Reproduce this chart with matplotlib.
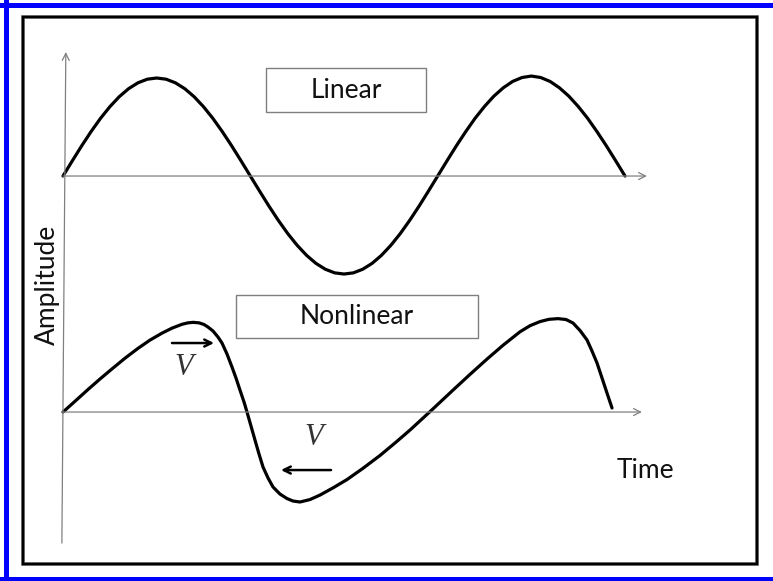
import matplotlib
matplotlib.use('Agg')
import matplotlib.pyplot as plt
from matplotlib.patches import Rectangle
from matplotlib.lines import Line2D

#Time values (arbitrary units) and amplitudes
t_linear = [k / 6 for k in range(61)]
a_linear = [0.0, 0.156, 0.309, 0.454, 0.588, 0.707, 0.809, 0.891, 0.951, 0.988, 1.0,
            0.988, 0.951, 0.891, 0.809, 0.707, 0.588, 0.454, 0.309, 0.156, 0.0,
            -0.156, -0.309, -0.454, -0.588, -0.707, -0.809, -0.891, -0.951, -0.988, -1.0,
            -0.988, -0.951, -0.891, -0.809, -0.707, -0.588, -0.454, -0.309, -0.156, 0.0,
            0.156, 0.309, 0.454, 0.59, 0.71, 0.815, 0.90, 0.965, 1.005, 1.02,
            1.005, 0.965, 0.90, 0.815, 0.71, 0.59, 0.454, 0.309, 0.156, 0.0]

t_nonlinear = [0.0, 0.214, 0.445, 0.658, 0.872, 1.103, 1.335, 1.548, 1.762, 1.94, 2.117, 2.224,
               2.313, 2.42, 2.509, 2.58, 2.669, 2.758, 2.829, 2.918, 3.007, 3.078, 3.149, 3.221,
               3.274, 3.345, 3.416, 3.488, 3.559, 3.648, 3.737, 3.861, 3.986, 4.093, 4.217, 4.395,
               4.573, 4.804, 5.053, 5.338, 5.641, 5.907, 6.174, 6.53, 6.94, 7.242,
               7.544, 7.829, 8.132, 8.31, 8.488, 8.648, 8.808, 8.95, 9.075, 9.199, 9.324, 9.413,
               9.502, 9.573, 9.644, 9.706, 9.769]
a_nonlinear = [0.0, 0.110, 0.230, 0.337, 0.440, 0.549, 0.650, 0.734, 0.805, 0.856, 0.895, 0.910,
               0.915, 0.910, 0.893, 0.867, 0.827, 0.765, 0.704, 0.592, 0.459, 0.347, 0.224, 0.102,
               0.0, -0.143, -0.286, -0.429, -0.561, -0.673, -0.765, -0.837, -0.883, -0.908, -0.918,
               -0.893, -0.847, -0.774, -0.689, -0.574, -0.443, -0.316, -0.184, 0.004,
               0.224, 0.384, 0.540, 0.681, 0.819, 0.881, 0.923, 0.946, 0.953, 0.944, 0.908, 0.832,
               0.735, 0.622, 0.5, 0.378, 0.255, 0.148, 0.041]

#Baseline of the upper (linear) trace above the lower one
linear_base = 2.408

fig = plt.figure(figsize=(7.73, 5.81), dpi=100)
ax = fig.add_axes([0, 0, 1, 1])
ax.set_xlim(-1.121, 12.633)
ax.set_ylim(-1.724, 4.204)
ax.axis('off')

#Blue outer frame (top, left, bottom), black inner frame
W, H = 773.0, 581.0
for xs, ys in [((0, W), (H - 4.5, H - 4.5)), ((5.5, 5.5), (0, H)), ((0, W), (2.0, 2.0))]:
    fig.add_artist(Line2D([x / W for x in xs], [y / H for y in ys], transform=fig.transFigure,
                          color='#0000ff', lw=3.6))
fig.add_artist(Rectangle((23 / W, 17 / H), 734 / W, 547 / H, transform=fig.transFigure,
                         fill=False, edgecolor='#555555', linewidth=2.6))
fig.add_artist(Rectangle((23 / W, 17 / H), 734 / W, 547 / H, transform=fig.transFigure,
                         fill=False, edgecolor='black', linewidth=1.6))

#Axes arrows
axis_kw = dict(arrowstyle='->,head_length=0.5,head_width=0.25', color='#808080', lw=0.9,
               shrinkA=0, shrinkB=0)
ax.annotate('', xy=(0.05, 3.673), xytext=(-0.02, -1.337), arrowprops=axis_kw)
ax.annotate('', xy=(10.39, linear_base), xytext=(0, linear_base), arrowprops=axis_kw)
ax.annotate('', xy=(10.30, 0), xytext=(0, 0), arrowprops=axis_kw)

#Waves
ax.plot(t_linear, [a + linear_base for a in a_linear], color='black', lw=2.3,
        solid_joinstyle='round', solid_capstyle='round')
ax.plot(t_nonlinear, a_nonlinear, color='black', lw=2.3,
        solid_joinstyle='round', solid_capstyle='round')

#Label boxes
font = 'Lato'
ax.add_patch(Rectangle((3.612, 3.061), 2.847, 0.449, fill=False, edgecolor='#7f7f7f', lw=1))
ax.text(5.036, 3.28, 'Linear', ha='center', va='center', fontsize=19, family=font, color='#111111')
ax.add_patch(Rectangle((3.078, 0.755), 4.306, 0.439, fill=False, edgecolor='#7f7f7f', lw=1))
ax.text(5.231, 0.975, 'Nonlinear', ha='center', va='center', fontsize=19, family=font, color='#111111')

ax.text(10.37, -0.60, 'Time', ha='center', va='center', fontsize=19, family=font, color='#111111')
ax.text(-0.27, 1.296, 'Amplitude', ha='center', va='center', rotation=90, fontsize=19,
        family=font, color='#111111')

#Velocity arrows
v_kw = dict(arrowstyle='->,head_length=0.5,head_width=0.25', color='black', lw=1.8,
            shrinkA=0, shrinkB=0)
ax.annotate('', xy=(2.687, 0.704), xytext=(1.94, 0.704), arrowprops=v_kw)
ax.annotate('', xy=(3.879, -0.592), xytext=(4.769, -0.592), arrowprops=v_kw)
ax.text(2.153, 0.459, 'V', ha='center', va='center', fontsize=22, family='Liberation Serif',
        style='italic', color='#333333')
ax.text(4.466, -0.255, 'V', ha='center', va='center', fontsize=22, family='Liberation Serif',
        style='italic', color='#333333')

plt.savefig('out.png', dpi=100)
